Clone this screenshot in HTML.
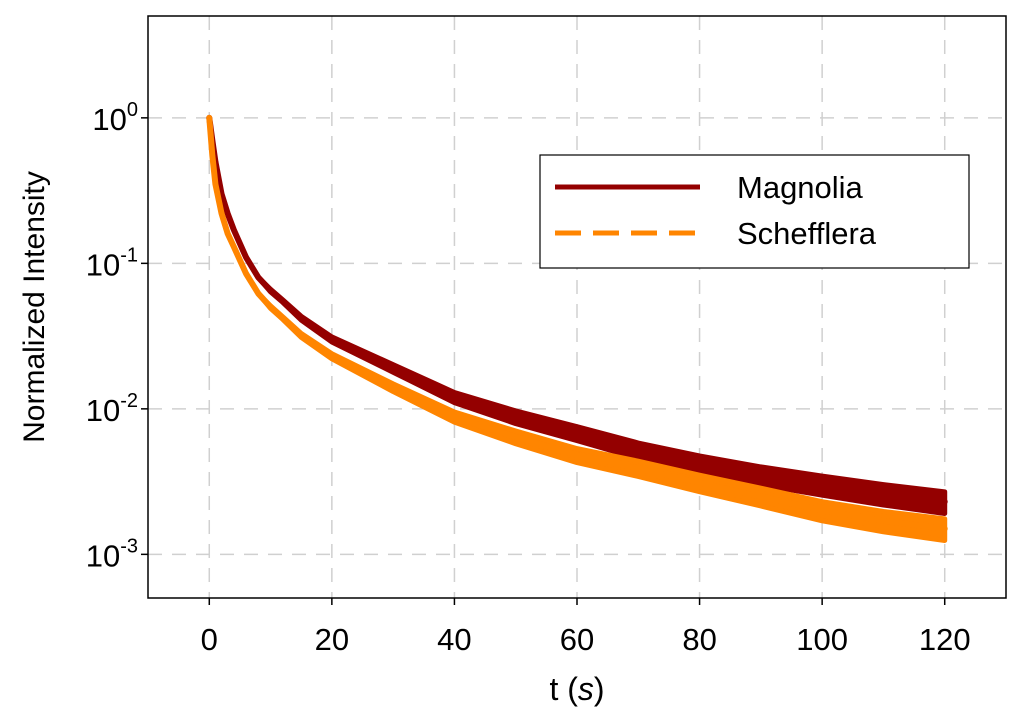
<!DOCTYPE html>
<html><head><meta charset="utf-8"><style>
body{margin:0;background:#fff}
svg{display:block;font-family:"Liberation Sans",Arial,sans-serif}
</style></head><body>
<svg id="chart" width="1024" height="722">
<g id="grid"></g>
<g id="series"></g>
<rect x="148" y="16" width="858" height="582" fill="none" stroke="#000" stroke-width="1.5"/>
<g id="axes"></g>
<text x="577" y="700" text-anchor="middle" font-size="32">t (<tspan font-style="italic">s</tspan>)</text>
<text transform="translate(44,307) rotate(-90)" text-anchor="middle" font-size="30">Normalized Intensity</text>
<g>
<rect x="540" y="155" width="429" height="113" fill="#fff" stroke="#000" stroke-width="1.2"/>
<line x1="555" y1="187" x2="700" y2="187" stroke="#940000" stroke-width="5"/>
<text x="737" y="198" font-size="31">Magnolia</text>
<line x1="555" y1="233" x2="700" y2="233" stroke="#ff8500" stroke-width="5" stroke-dasharray="26,12"/>
<text x="737" y="244" font-size="31">Schefflera</text>
</g>
</svg>
<script>
const times = [0,0.5,1,2,3,4,6,8,10,12,15,20,30,40,50,60,70,80,90,100,110,120];
const magnolia = [1.0,0.7,0.5,0.3,0.22,0.17,0.11,0.08,0.065,0.055,0.042,0.03,0.019,0.012,0.0088,0.0068,0.0052,0.0042,0.0035,0.003,0.0026,0.0023];
const schefflera = [1.0,0.55,0.35,0.22,0.16,0.13,0.085,0.062,0.05,0.042,0.032,0.023,0.014,0.0088,0.0064,0.0048,0.0039,0.0031,0.0025,0.002,0.0017,0.0015];
const noiseSpread = [0,0,0,0,0,0,0,0,0.02,0.02,0.03,0.04,0.06,0.08,0.1,0.11,0.12,0.13,0.14,0.15,0.16,0.17];
const xTicks = [0,20,40,60,80,100,120];
const yExps = [0,-1,-2,-3];
const NS='http://www.w3.org/2000/svg';
const L=148,R=1006,T=16,B=598;
const xMin=-10,xMax=130,yMin=-3.3,yMax=0.7;
const sx=t=>L+(t-xMin)/(xMax-xMin)*(R-L);
const sy=v=>T+(yMax-Math.log10(v))/(yMax-yMin)*(B-T);
function mk(tag,attrs,parent){const e=document.createElementNS(NS,tag);for(const k in attrs)e.setAttribute(k,attrs[k]);parent.appendChild(e);return e;}
const grid=document.getElementById('grid'),axes=document.getElementById('axes'),ser=document.getElementById('series');
xTicks.forEach(t=>{
  const g=mk('line',{x1:sx(t),x2:sx(t),y1:T,y2:B,stroke:'#d0d0d0','stroke-width':1.5,'stroke-dasharray':'14,10'},grid);
  
  
  const tk=mk('line',{x1:sx(t),x2:sx(t),y1:B,y2:B+7,stroke:'#000','stroke-width':1.5},axes);
  
  
  const tx=mk('text',{x:sx(t),y:B+52,'text-anchor':'middle','font-size':31},axes);
  tx.textContent=t;
  
  
});
yExps.forEach(e=>{
  const y=sy(Math.pow(10,e));
  const g=mk('line',{x1:L,x2:R,y1:y,y2:y,stroke:'#d0d0d0','stroke-width':1.5,'stroke-dasharray':'14,10'},grid);
  
  
  const tk=mk('line',{x1:L-7,x2:L,y1:y,y2:y,stroke:'#000','stroke-width':1.5},axes);
  
  
  const tx=mk('text',{x:L-10,y:y+12,'text-anchor':'end','font-size':31},axes);
  tx.innerHTML='10<tspan dy="-14" font-size="20">'+e+'</tspan>';
  
  
});
function draw(vals,color,name,dash){
  const up=times.map((t,i)=>sx(t)+','+sy(vals[i]*(1+noiseSpread[i]))).join(' ');
  const dn=times.map((t,i)=>sx(t)+','+sy(vals[i]*(1-noiseSpread[i]))).reverse().join(' ');
  const band=mk('polygon',{points:up+' '+dn,fill:color,stroke:color,'stroke-width':5,'stroke-linejoin':'round'},ser);
  
  
  const pts=times.map((t,i)=>sx(t)+','+sy(vals[i])).join(' ');
  const p=mk('polyline',{points:pts,fill:'none',stroke:color,'stroke-width':6,'stroke-linejoin':'round','stroke-linecap':'round'},ser);
  
  
}
draw(magnolia,'#940000','magnolia',false);
draw(schefflera,'#ff8500','schefflera',true);
</script>
</body></html>
